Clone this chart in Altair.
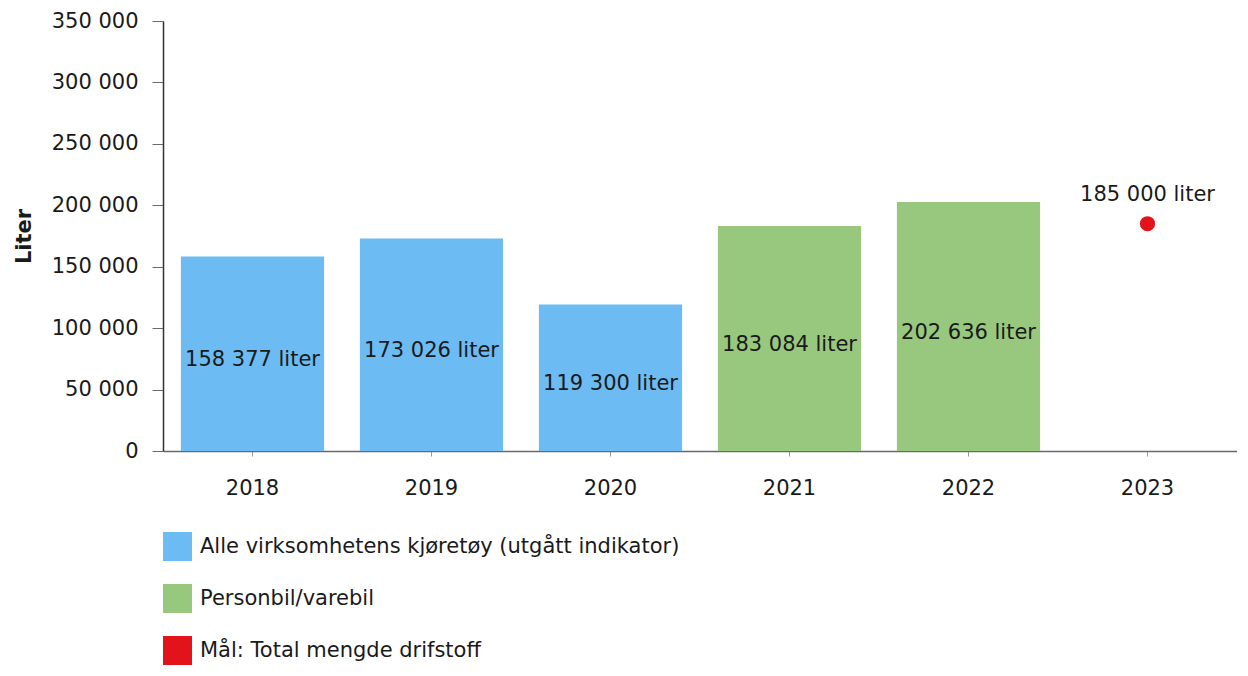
import altair as alt
import pandas as pd

years = ["2018", "2019", "2020", "2021", "2022", "2023"]
bar_years = ["2018", "2019", "2020", "2021", "2022"]
bar_values = [158377, 173026, 119300, 183084, 202636]
bar_labels = ["158 377 liter", "173 026 liter", "119 300 liter", "183 084 liter", "202 636 liter"]
series_names = [
    "Alle virksomhetens kjøretøy (utgått indikator)",
    "Personbil/varebil",
    "Mål: Total mengde drifstoff",
]
bar_series = [series_names[0]] * 3 + [series_names[1]] * 2
target_years = ["2023"]
target_values = [185000]
target_labels = ["185 000 liter"]
target_series = [series_names[2]]
series_colors = ["#6cbbf3", "#98c87e", "#e2131b"]
y_ticks = [0, 50000, 100000, 150000, 200000, 250000, 300000, 350000]

FONT = "DejaVu Sans"
TXT = "#1a1a1a"
FS = 21

bars_df = pd.DataFrame({"year": bar_years, "value": bar_values,
                        "label": bar_labels, "series": bar_series})
target_df = pd.DataFrame({"year": target_years, "value": target_values,
                          "label": target_labels, "series": target_series})

x_enc = alt.X("year:N", scale=alt.Scale(domain=years, paddingInner=0.2, paddingOuter=0.1),
              axis=alt.Axis(title=None, labelAngle=0, labelFont=FONT, labelFontSize=FS,
                            labelColor=TXT, labelPadding=21, tickSize=5, tickColor="#9a9a9a",
                            domainColor="#6a6a6a", domainWidth=1.5))
y_scale = alt.Scale(domain=[0, 350000], nice=False)
y_axis = alt.Axis(title="Liter", titleFont=FONT, titleFontSize=21, titleFontWeight="bold",
                  titleColor=TXT, titlePadding=17, values=y_ticks,
                  labelExpr="replace(format(datum.value, ','), ',', ' ')",
                  labelFont=FONT, labelFontSize=FS, labelColor=TXT, labelPadding=14,
                  tickSize=11, tickColor="#6a6a6a", domainColor="#333333", domainWidth=1.5,
                  grid=False)

color_scale = alt.Scale(domain=series_names, range=series_colors)
legend = alt.Legend(title=None, orient="bottom", direction="vertical", symbolType="square",
                    symbolSize=840, symbolStrokeWidth=0, symbolOpacity=1,
                    labelFont=FONT, labelFontSize=FS, labelColor=TXT, labelOffset=8,
                    rowPadding=23, offset=34, labelLimit=800)

bars = alt.Chart(bars_df).mark_bar().encode(
    x=x_enc,
    y=alt.Y("value:Q", scale=y_scale, axis=y_axis),
    color=alt.Color("series:N", scale=color_scale, legend=legend),
)

bar_text = alt.Chart(bars_df).transform_calculate(mid="datum.value / 2").mark_text(
    font=FONT, fontSize=FS, color=TXT, baseline="middle", dy=6
).encode(
    x=alt.X("year:N"),
    y=alt.Y("mid:Q"),
    text="label:N",
)

dot = alt.Chart(target_df).mark_point(filled=True, size=230, opacity=1, shape="circle").encode(
    x=alt.X("year:N"),
    y=alt.Y("value:Q"),
    color=alt.Color("series:N", scale=color_scale, legend=legend),
)

dot_text = alt.Chart(target_df).mark_text(
    font=FONT, fontSize=FS, color=TXT, baseline="middle", dy=-29
).encode(
    x=alt.X("year:N"),
    y=alt.Y("value:Q"),
    text="label:N",
)

chart = alt.layer(bars, bar_text, dot, dot_text).properties(
    width=1074, height=430,
    padding={"left": 5, "top": 2, "right": 0, "bottom": 0},
).configure_view(stroke=None)

chart.save("out.html", embed_options={"renderer": "svg", "actions": False})
